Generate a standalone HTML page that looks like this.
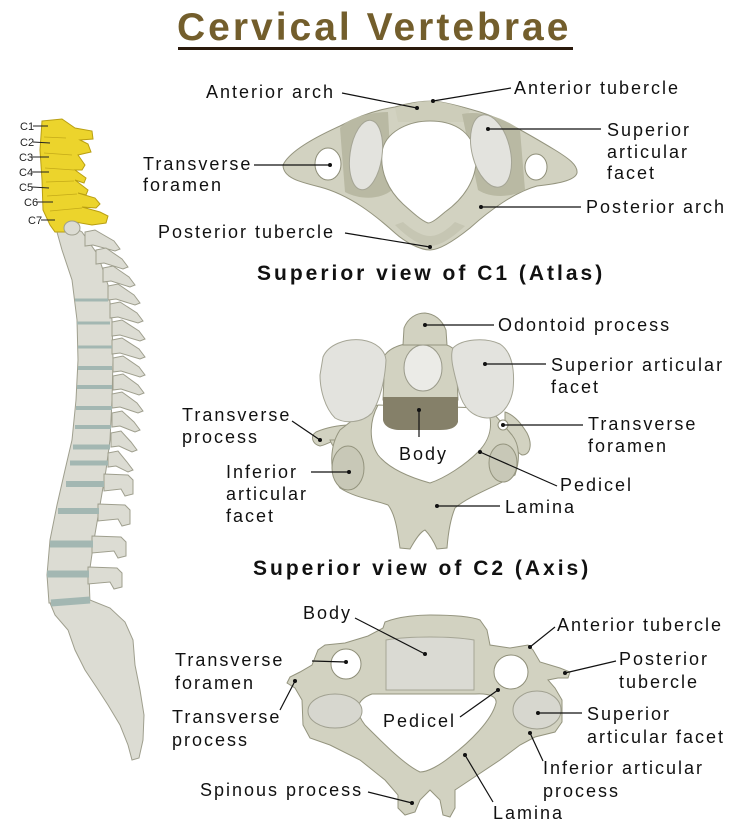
<!DOCTYPE html>
<html><head><meta charset="utf-8"><style>
html,body{margin:0;padding:0;background:#fff;}
svg{display:block;}
.l{font-family:"Liberation Sans",sans-serif;font-size:18px;letter-spacing:2px;fill:#111;}
.cap{font-family:"Liberation Sans",sans-serif;font-size:21px;font-weight:bold;letter-spacing:3px;fill:#111;}
.s{font-family:"Liberation Sans",sans-serif;font-size:11px;fill:#222;}
.ln{stroke:#111;stroke-width:1.2;fill:none;}
.bone{fill:#d2d2c1;stroke:#94947e;stroke-width:1;}
.face{fill:#e3e3de;stroke:#a5a595;stroke-width:1;}
.sp{fill:#dcdcd3;stroke:#9f9f8e;stroke-width:1;}
</style></head><body>
<svg width="750" height="830" viewBox="0 0 750 830" xmlns="http://www.w3.org/2000/svg">
<!-- Title -->
<text x="177" y="40" font-family="Liberation Sans, sans-serif" font-size="39" font-weight="bold" letter-spacing="3" fill="#735e2c">Cervical Vertebrae</text>
<rect x="178" y="47" width="395" height="3" fill="#2a1a0c"/>

<!-- ===== SPINE ===== -->
<polygon class="sp" points="55,225 62,250 72,280 77,320 78,360 76,400 72,440 65,470 57,505 50,540 47,575 49,603 90,603 89,575 94,540 100,505 106,470 110,440 112,400 113,360 112,320 108,285 98,255 82,232 70,225"/>
<polygon class="sp" points="50,603 90,600 110,608 125,622 133,640 135,665 140,690 144,715 143,740 139,758 132,760 128,745 120,725 108,705 97,688 85,670 75,650 68,630 55,615"/>
<g class="sp">
<polygon points="85,232 95,230 114,241 120,249 115,251 93,245 85,246"/>
<polygon points="96,250 106,248 122,259 128,267 123,269 104,263 96,264"/>
<polygon points="103,268 113,266 129,277 135,285 130,287 111,281 103,282"/>
<polygon points="108,286 118,284 134,295 140,303 135,305 116,299 108,300"/>
<polygon points="110,304 120,302 137,313 143,321 138,323 118,317 110,318"/>
<polygon points="112,322 122,320 139,331 145,339 140,341 120,335 112,336"/>
<polygon points="112,340 122,338 139,349 145,357 140,359 120,353 112,354"/>
<polygon points="113,358 123,356 139,367 145,375 140,377 121,371 113,372"/>
<polygon points="113,376 123,374 138,385 144,393 139,395 121,389 113,390"/>
<polygon points="112,394 122,392 137,403 143,411 138,413 120,407 112,408"/>
<polygon points="112,413 122,411 134,422 140,430 135,432 120,426 112,427"/>
<polygon points="111,433 121,431 131,442 137,450 132,452 119,446 111,447"/>
<polygon points="108,453 118,451 127,462 133,470 128,472 116,466 108,467"/>
<polygon points="104,474 128,475 133,480 133,494 125,496 121,489 104,491"/>
<polygon points="98,504 125,505 130,510 130,524 122,526 118,519 98,521"/>
<polygon points="92,536 121,537 126,542 126,556 118,558 114,551 92,553"/>
<polygon points="88,567 117,568 122,573 122,587 114,589 110,582 88,584"/>
</g>
<g stroke="#a3b7b2" stroke-linecap="butt">
<line x1="75" y1="300" x2="108" y2="300" stroke-width="3"/>
<line x1="77" y1="323" x2="110" y2="323" stroke-width="3"/>
<line x1="78" y1="347" x2="112" y2="347" stroke-width="3"/>
<line x1="78" y1="368" x2="112" y2="368" stroke-width="4"/>
<line x1="77" y1="387" x2="112" y2="387" stroke-width="4"/>
<line x1="76" y1="408" x2="112" y2="408" stroke-width="4"/>
<line x1="75" y1="427" x2="111" y2="427" stroke-width="4"/>
<line x1="73" y1="447" x2="110" y2="447" stroke-width="5"/>
<line x1="70" y1="463" x2="108" y2="463" stroke-width="5"/>
<line x1="66" y1="484" x2="104" y2="484" stroke-width="6"/>
<line x1="58" y1="511" x2="99" y2="511" stroke-width="6"/>
<line x1="50" y1="544" x2="93" y2="544" stroke-width="7"/>
<line x1="47" y1="574" x2="89" y2="574" stroke-width="7"/>
<line x1="51" y1="603" x2="90" y2="600" stroke-width="7"/>
</g>
<!-- cervical yellow -->
<polygon fill="#ecd42c" stroke="#b99f12" stroke-width="1" points="42,121 62,119 75,128 92,131 93,139 80,140 88,144 91,152 78,155 85,165 82,170 75,170 86,178 84,183 75,180 88,190 86,195 78,193 95,198 100,204 96,208 82,207 100,212 108,216 106,223 92,225 75,222 70,232 55,232 50,225 43,210 42,180 40,150"/>
<g stroke="#c4aa18" stroke-width="0.8" fill="none">
<path d="M44,137 L66,138"/><path d="M44,153 L72,155"/><path d="M45,168 L74,170"/><path d="M46,182 L74,181"/><path d="M47,196 L77,194"/><path d="M50,211 L82,208"/>
</g>
<ellipse cx="72" cy="228" rx="8" ry="7" fill="#dcdcd3" stroke="#9f9f8e"/>
<!-- spine labels -->
<g class="s">
<text x="20" y="130">C1</text><text x="20" y="146">C2</text><text x="19" y="161">C3</text><text x="19" y="176">C4</text><text x="19" y="191">C5</text><text x="24" y="206">C6</text><text x="28" y="224">C7</text>
</g>
<g stroke="#222" stroke-width="1">
<line x1="33" y1="126" x2="48" y2="126"/><line x1="33" y1="142" x2="50" y2="143"/><line x1="32" y1="157" x2="49" y2="157"/><line x1="32" y1="172" x2="49" y2="172"/><line x1="32" y1="187" x2="49" y2="188"/><line x1="37" y1="202" x2="53" y2="202"/><line x1="41" y1="220" x2="55" y2="220"/>
</g>

<!-- ===== C1 ATLAS ===== -->
<path class="bone" d="M283,165 C290,150 320,135 340,126 C355,118 375,110 395,107 C405,104 420,101 433,101 C445,102 460,106 480,112 C505,120 530,135 555,150 C568,158 578,165 577,173 C575,181 555,184 537,186 C515,192 490,210 470,228 C455,240 440,250 430,250 C420,250 405,242 395,233 C375,215 350,195 320,187 C300,182 283,178 283,165 Z"/>
<path d="M395,108 C410,103 420,101 433,101 C445,102 458,106 470,110 L465,122 L398,122 Z" fill="#cdcdba"/>
<path d="M340,128 C348,118 370,112 388,112 L392,190 C380,200 360,200 345,192 Z" fill="#b9b9a3"/>
<path d="M462,114 C480,110 505,118 520,130 L525,190 C510,198 490,198 478,190 Z" fill="#b9b9a3"/>
<path d="M395,225 C410,240 422,246 430,246 C440,246 452,238 465,226 L455,222 C445,232 437,236 430,236 C422,236 412,230 403,222 Z" fill="#c6c6b3"/>
<path d="M430,121 C452,121 472,130 476,155 C478,180 462,200 445,212 C438,218 432,223 428,223 C422,221 413,213 403,204 C388,190 380,172 382,152 C385,132 408,121 430,121 Z" fill="#fff" stroke="#94947e"/>
<ellipse class="face" cx="366" cy="155" rx="16" ry="35" transform="rotate(8 366 155)"/>
<ellipse class="face" cx="491" cy="151" rx="19" ry="37" transform="rotate(-14 491 151)"/>
<ellipse cx="328" cy="164" rx="13" ry="16" fill="#fff" stroke="#8e8e78"/>
<ellipse cx="536" cy="167" rx="11" ry="13" fill="#fff" stroke="#8e8e78"/>

<!-- ===== C2 AXIS ===== -->
<path class="bone" d="M350,425 C338,425 325,428 316,432 C310,436 312,444 320,446 C326,445 332,440 340,440 C345,441 350,440 352,438 Z"/>
<path class="bone" d="M330,440 C333,448 338,452 345,450 L345,440 Z"/>
<path class="bone" d="M505,412 C515,415 522,425 527,433 C533,445 530,455 522,455 C516,452 512,445 505,440 Z"/>
<path class="bone" d="M372,405 L340,430 C330,445 328,470 340,488 C355,498 375,500 388,505 C396,515 398,535 400,548 L410,549 C415,540 420,532 425,530 C430,535 434,542 437,549 L447,548 C448,535 450,520 455,508 C470,495 500,485 515,475 C520,460 520,445 512,435 L495,415 Z"/>
<path d="M378,405 C370,420 368,440 378,455 C390,470 412,478 430,483 C445,478 465,465 478,452 C488,442 492,430 490,418 L485,408 Z" fill="#fff" stroke="#94947e"/>
<circle cx="503" cy="425" r="5" fill="#fff" stroke="#8e8e78"/>
<ellipse cx="348" cy="468" rx="16" ry="22" fill="#c8c8b7" stroke="#94947e"/>
<ellipse cx="503" cy="463" rx="14" ry="19" fill="#c8c8b7" stroke="#94947e"/>
<path class="bone" d="M385,355 C392,345 410,342 425,342 C440,342 452,345 456,352 L458,400 L383,400 Z"/>
<path class="bone" d="M403,345 L404,328 C408,318 416,313 425,313 C435,314 442,320 446,330 L447,345 Z"/>
<ellipse cx="423" cy="368" rx="19" ry="23" fill="#ebebe7" stroke="#9a9a8a"/>
<path d="M383,397 L458,397 L458,422 C456,428 450,430 440,430 L400,430 C390,430 384,426 383,420 Z" fill="#858069"/>
<path class="face" d="M323,357 C328,345 345,338 362,340 C376,342 385,350 386,360 C385,380 380,400 372,413 C362,423 345,424 335,418 C325,408 320,390 320,375 Z"/>
<path class="face" d="M453,348 C462,339 485,337 500,344 C512,352 515,370 513,390 C510,407 500,418 487,418 C472,417 463,407 459,392 C455,375 449,358 453,348 Z"/>

<!-- ===== C7 ===== -->
<path class="bone" d="M385,622 C400,616 420,615 430,615 C450,615 470,616 480,620 L487,630 L490,645 L510,648 L528,645 L533,650 L540,662 L560,668 L570,672 L568,678 L558,678 L548,680 L555,688 L562,700 L562,722 L555,732 L535,737 L520,745 L500,760 L470,780 L455,790 L455,808 L450,817 L443,815 L440,800 L430,790 L420,800 L415,812 L405,815 L398,808 L398,795 L385,780 L360,760 L330,745 L310,738 L303,725 L302,700 L295,688 L287,683 L290,677 L300,672 L312,665 L318,650 L325,645 L345,643 L368,636 L383,628 Z"/>
<path d="M372,694 L475,694 C490,693 497,697 496,703 C492,720 470,742 450,757 C440,765 428,772 420,772 C405,765 385,745 365,725 C355,712 355,700 372,694 Z" fill="#fff" stroke="#94947e"/>
<circle cx="346" cy="664" r="15" fill="#fff" stroke="#8e8e78"/>
<circle cx="511" cy="672" r="17" fill="#fff" stroke="#8e8e78"/>
<path d="M386,640 C410,636 450,636 474,640 L474,690 L386,690 Z" fill="#dadad3" stroke="#a5a595"/>
<ellipse cx="335" cy="711" rx="27" ry="17" fill="#d7d7cf" stroke="#a0a090"/>
<ellipse cx="537" cy="710" rx="24" ry="19" fill="#d7d7cf" stroke="#a0a090"/>

<!-- ===== LEADER LINES ===== -->
<g class="ln">
<line x1="342" y1="93" x2="417" y2="108"/>
<line x1="511" y1="88" x2="433" y2="101"/>
<line x1="488" y1="129" x2="601" y2="129"/>
<line x1="254" y1="165" x2="330" y2="165"/>
<line x1="481" y1="207" x2="581" y2="207"/>
<line x1="345" y1="233" x2="430" y2="247"/>
<line x1="425" y1="325" x2="494" y2="325"/>
<line x1="485" y1="364" x2="546" y2="364"/>
<line x1="292" y1="421" x2="320" y2="440"/>
<line x1="419" y1="410" x2="419" y2="437"/>
<line x1="503" y1="425" x2="583" y2="425"/>
<line x1="311" y1="472" x2="349" y2="472"/>
<line x1="480" y1="452" x2="557" y2="486"/>
<line x1="437" y1="506" x2="500" y2="506"/>
<line x1="355" y1="618" x2="425" y2="654"/>
<line x1="555" y1="627" x2="530" y2="647"/>
<line x1="312" y1="661" x2="346" y2="662"/>
<line x1="616" y1="661" x2="565" y2="673"/>
<line x1="295" y1="681" x2="280" y2="710"/>
<line x1="460" y1="717" x2="498" y2="690"/>
<line x1="538" y1="713" x2="582" y2="713"/>
<line x1="530" y1="733" x2="543" y2="761"/>
<line x1="465" y1="755" x2="493" y2="802"/>
<line x1="368" y1="792" x2="412" y2="803"/>
</g>
<g fill="#111">
<circle cx="417" cy="108" r="2"/><circle cx="433" cy="101" r="2"/><circle cx="488" cy="129" r="2"/><circle cx="330" cy="165" r="2"/><circle cx="481" cy="207" r="2"/><circle cx="430" cy="247" r="2"/>
<circle cx="425" cy="325" r="2"/><circle cx="485" cy="364" r="2"/><circle cx="320" cy="440" r="2"/><circle cx="419" cy="410" r="2"/><circle cx="503" cy="425" r="2"/><circle cx="349" cy="472" r="2"/><circle cx="480" cy="452" r="2"/><circle cx="437" cy="506" r="2"/>
<circle cx="425" cy="654" r="2"/><circle cx="530" cy="647" r="2"/><circle cx="346" cy="662" r="2"/><circle cx="565" cy="673" r="2"/><circle cx="295" cy="681" r="2"/><circle cx="498" cy="690" r="2"/><circle cx="538" cy="713" r="2"/><circle cx="530" cy="733" r="2"/><circle cx="465" cy="755" r="2"/><circle cx="412" cy="803" r="2"/>
</g>

<!-- ===== LABELS ===== -->
<g class="l">
<text x="206" y="98">Anterior arch</text>
<text x="514" y="94">Anterior tubercle</text>
<text x="607" y="136">Superior</text>
<text x="607" y="158">articular</text>
<text x="607" y="179">facet</text>
<text x="143" y="170">Transverse</text>
<text x="143" y="191">foramen</text>
<text x="586" y="213">Posterior arch</text>
<text x="158" y="238">Posterior tubercle</text>

<text x="498" y="331">Odontoid process</text>
<text x="551" y="371">Superior articular</text>
<text x="551" y="393">facet</text>
<text x="182" y="421">Transverse</text>
<text x="182" y="443">process</text>
<text x="399" y="460">Body</text>
<text x="588" y="430">Transverse</text>
<text x="588" y="452">foramen</text>
<text x="226" y="478">Inferior</text>
<text x="226" y="500">articular</text>
<text x="226" y="522">facet</text>
<text x="560" y="491">Pedicel</text>
<text x="505" y="513">Lamina</text>

<text x="303" y="619">Body</text>
<text x="557" y="631">Anterior tubercle</text>
<text x="175" y="666">Transverse</text>
<text x="175" y="689">foramen</text>
<text x="619" y="665">Posterior</text>
<text x="619" y="688">tubercle</text>
<text x="172" y="723">Transverse</text>
<text x="172" y="746">process</text>
<text x="383" y="727">Pedicel</text>
<text x="587" y="720">Superior</text>
<text x="587" y="743">articular facet</text>
<text x="543" y="774">Inferior articular</text>
<text x="543" y="797">process</text>
<text x="493" y="819">Lamina</text>
<text x="200" y="796">Spinous process</text>
</g>
<text class="cap" x="257" y="280">Superior view of C1 (Atlas)</text>
<text class="cap" x="253" y="575">Superior view of C2 (Axis)</text>
</svg>
</body></html>
